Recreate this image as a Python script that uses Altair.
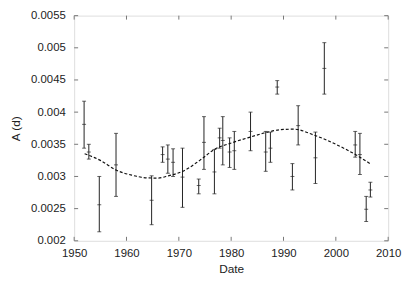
import altair as alt
import pandas as pd

# Measurements (year, A in days) with error bars
years = [1951.9, 1952.8, 1954.8, 1958.0, 1964.8, 1966.9, 1967.9, 1968.9, 1970.7, 1973.8,
         1974.8, 1976.8, 1977.8, 1978.4, 1979.7, 1980.6, 1983.7, 1986.6, 1987.5, 1988.8,
         1991.7, 1992.8, 1996.1, 1997.8, 2003.7, 2004.6, 2005.8, 2006.6]
center = [0.00381, 0.00338, 0.00256, 0.00318, 0.00263, 0.00334, 0.00327, 0.00322, 0.00299, 0.00286,
          0.00353, 0.00307, 0.00360, 0.00356, 0.00338, 0.00340, 0.00370, 0.00338, 0.00344, 0.00439,
          0.00300, 0.00379, 0.00329, 0.00468, 0.00349, 0.00334, 0.00249, 0.00279]
upper = [0.00417, 0.00350, 0.00300, 0.00367, 0.00301, 0.00346, 0.00349, 0.00343, 0.00344, 0.00296,
         0.00393, 0.00342, 0.00375, 0.00393, 0.00360, 0.00370, 0.00400, 0.00370, 0.00369, 0.00449,
         0.00320, 0.00410, 0.00369, 0.00508, 0.00370, 0.00367, 0.00269, 0.00291]
lower = [0.00344, 0.00327, 0.00214, 0.00269, 0.00225, 0.00322, 0.00305, 0.00300, 0.00252, 0.00273,
         0.00311, 0.00273, 0.00344, 0.00318, 0.00314, 0.00311, 0.00340, 0.00308, 0.00322, 0.00428,
         0.00279, 0.00349, 0.00289, 0.00428, 0.00330, 0.00303, 0.00230, 0.00268]

# Fitted curve
fit_years = [1952, 1955, 1958, 1961, 1964, 1966, 1968, 1971, 1974, 1977, 1980, 1983.7,
             1987, 1990, 1992, 1995.7, 2000, 2004.5, 2006.6]
fit_vals = [0.003353, 0.00325, 0.00310, 0.00302, 0.002978, 0.002975, 0.00301, 0.00309,
            0.00325, 0.00343, 0.00352, 0.003613, 0.00369, 0.003732, 0.003735, 0.003647,
            0.00350, 0.003304, 0.003196]

x_ticks = [1950, 1960, 1970, 1980, 1990, 2000, 2010]
y_ticks = [0.002, 0.0025, 0.003, 0.0035, 0.004, 0.0045, 0.005, 0.0055]

W, H = 318, 228
FONT = "Liberation Sans"
INK = "#222222"

df = pd.DataFrame({"year": years, "c": center, "hi": upper, "lo": lower})
fit = pd.DataFrame({"year": fit_years, "v": fit_vals})
xt = pd.DataFrame({"t": x_ticks})
yt = pd.DataFrame({"t": y_ticks})

xs = alt.Scale(domain=[1950, 2010], nice=False, zero=False)
ys = alt.Scale(domain=[0.002, 0.0055], nice=False, zero=False)

x_axis = alt.Axis(values=x_ticks, format="d", ticks=False, domain=False, grid=False,
                  labelOverlap=False, labelFlush=False,
                  labelPadding=7, labelFontSize=11.5, labelFont=FONT, labelColor=INK,
                  title="Date", titleFont=FONT, titleFontSize=12, titleFontWeight="normal",
                  titleColor=INK, titlePadding=5)
y_axis = alt.Axis(values=y_ticks, format="~g", ticks=False, domain=False, grid=False,
                  labelOverlap=False, labelFlush=False,
                  labelPadding=9, labelFontSize=11.5, labelFont=FONT, labelColor=INK,
                  title="A (d)", titleFont=FONT, titleFontSize=12, titleFontWeight="normal",
                  titleColor=INK, titlePadding=8)

X = lambda f: alt.X(f, scale=xs, axis=x_axis)
Y = lambda f: alt.Y(f, scale=ys, axis=y_axis)

base = alt.Chart(df)

bars = base.mark_rule(color=INK, strokeWidth=1).encode(
    x=X("year:Q"), y=Y("lo:Q"), y2="hi:Q")
cap_hi = base.mark_tick(color=INK, orient="horizontal", size=4, thickness=1).encode(
    x=X("year:Q"), y=Y("hi:Q"))
cap_lo = base.mark_tick(color=INK, orient="horizontal", size=4, thickness=1).encode(
    x=X("year:Q"), y=Y("lo:Q"))
mid = base.mark_tick(color=INK, orient="horizontal", size=4, thickness=1).encode(
    x=X("year:Q"), y=Y("c:Q"))

curve = alt.Chart(fit).mark_line(color="#111111", strokeWidth=1.2, strokeDash=[3, 2],
                                 interpolate="monotone").encode(
    x=X("year:Q"), y=Y("v:Q"))

TICK_COLOR = "#777777"
xb = alt.Chart(xt).mark_rule(color=TICK_COLOR).encode(
    x=X("t:Q"), y=alt.value(H), y2=alt.value(H - 4))
xtop = alt.Chart(xt).mark_rule(color=TICK_COLOR).encode(
    x=X("t:Q"), y=alt.value(0), y2=alt.value(4))
yl = alt.Chart(yt).mark_rule(color=TICK_COLOR).encode(
    y=Y("t:Q"), x=alt.value(0), x2=alt.value(4))
yr = alt.Chart(yt).mark_rule(color=TICK_COLOR).encode(
    y=Y("t:Q"), x=alt.value(W), x2=alt.value(W - 4))

chart = alt.layer(bars, xb, xtop, yl, yr, curve, cap_hi, cap_lo, mid).properties(
    width=W, height=H,
    autosize=alt.AutoSizeParams(type="none"),
    padding={"left": 67, "top": 6, "right": 14, "bottom": 40},
).configure_view(stroke=TICK_COLOR, strokeWidth=1).configure(background="white")

chart.save("out.html", embed_options={"renderer": "svg", "actions": False})
